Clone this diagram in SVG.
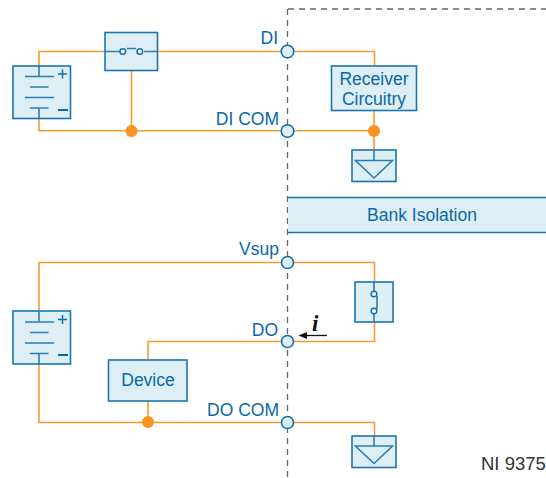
<svg xmlns="http://www.w3.org/2000/svg" width="546" height="478" viewBox="0 0 546 478">
<style>
text{font-family:"Liberation Sans",Arial,sans-serif;font-size:17.500px;fill:#0a68a8}
.m{text-anchor:middle}.e{text-anchor:end}
.w{fill:none;stroke:#f79a2e;stroke-width:1.600}
.b{fill:#ddeef5;stroke:#1a76b0;stroke-width:1.600}
.l{fill:none;stroke:#2a7db5;stroke-width:1.600}
.c{fill:#ddeef5;stroke:#0f70b0;stroke-width:1.600}
.o{fill:#fff;stroke:#0f70b0;stroke-width:1.500}
.d{fill:#f8931f}
</style>
<path id="boundary" d="M288 9H546M287.500 9V478" fill="none" stroke="#666" stroke-width="1.300" stroke-dasharray="6 5"/>
<g id="connectors">
<path class="w" d="M39 66V51.500H105M158 51.500H374.500V66"/>
<path class="w" d="M131.500 70V131"/>
<path class="w" d="M39 119V130.800H374V150"/>
<path class="w" d="M374 111V131"/>
<path class="w" d="M39 310V262.500H374.500V282"/>
<path class="w" d="M374.500 322V341.500H148V360"/>
<path class="w" d="M39 364V422.500H374.500V436"/>
<path class="w" d="M148 401V422"/>
</g>
<g id="battery-top">
<rect class="b" x="13" y="66" width="57.500" height="52.500"/>
<path class="l" d="M39 66V76M25 76.500H54M30 87H48.500M25 97.500H54M30 108H48.500M39 108V118.500"/>
<path d="M58 74H67M62.500 69.500V78.500" stroke="#0f70b0" stroke-width="1.500"/>
<path d="M58 110H68" stroke="#0a68a8" stroke-width="2"/>
</g>
<g id="switch-top">
<rect class="b" x="105" y="32.500" width="52.500" height="38"/>
<path class="l" d="M105 51.500H120M127 48.500H136M144 51.500H157.500"/>
<circle class="o" cx="122.800" cy="51.500" r="2.800"/><circle class="o" cx="139.800" cy="51.500" r="2.800"/>
</g>
<g id="receiver">
<rect class="b" x="331.500" y="66" width="85" height="44.500"/>
<text class="m" x="374" y="84.500">Receiver</text>
<text class="m" x="374" y="104.500">Circuitry</text>
</g>
<g id="ground-top">
<rect class="b" x="352" y="150" width="44" height="31.500"/>
<path class="l" d="M374 150V160M355.500 160.500H392.500L374 178Z"/>
</g>
<g id="bank-isolation">
<path d="M288 197.500H546V232.500H288Z" fill="#ddeef5"/>
<path d="M288 197.500H546M288 232.500H546" fill="none" stroke="#1a76b0" stroke-width="1.300"/>
<text class="m" x="422" y="221">Bank Isolation</text>
</g>
<g id="battery-bottom">
<rect class="b" x="13" y="311" width="57.500" height="53"/>
<path class="l" d="M39 311V321.500M25 322H54M30 332.500H48.500M25 343H54M30 353.500H48.500M39 353.500V364"/>
<path d="M58 319.500H67M62.500 315V324" stroke="#0f70b0" stroke-width="1.500"/>
<path d="M58 355H68" stroke="#0a68a8" stroke-width="2"/>
</g>
<g id="device">
<rect class="b" x="108.500" y="360" width="78.500" height="41"/>
<text class="m" x="148" y="386">Device</text>
</g>
<g id="switch-bottom">
<rect class="b" x="355" y="282" width="38" height="40"/>
<path class="l" d="M374 282V291M377 296V309M374 314V322"/>
<circle class="o" cx="374" cy="294" r="2.800"/><circle class="o" cx="374" cy="311" r="2.800"/>
</g>
<g id="ground-bottom">
<rect class="b" x="352" y="436" width="44" height="31.500"/>
<path class="l" d="M374 436V445.500M355.500 446H392.500L374 463.500Z"/>
</g>
<g id="term-di"><circle class="c" cx="287.500" cy="51.500" r="6.300"/><text class="e" x="278" y="44">DI</text></g>
<g id="term-di-com"><circle class="c" cx="287.500" cy="131" r="6.300"/><text class="e" x="279" y="124.500">DI COM</text></g>
<g id="term-vsup"><circle class="c" cx="287.500" cy="262.500" r="6"/><text class="e" x="279" y="255">Vsup</text></g>
<g id="term-do"><circle class="c" cx="287.500" cy="341.500" r="6"/><text class="e" x="278" y="336">DO</text></g>
<g id="term-do-com"><circle class="c" cx="287.500" cy="422.500" r="6"/><text class="e" x="279" y="416">DO COM</text></g>
<g id="junctions">
<circle class="d" cx="131.500" cy="131" r="6"/>
<circle class="d" cx="374" cy="131" r="6"/>
<circle class="d" cx="148" cy="422" r="6"/>
</g>
<g id="current">
<path d="M306 335.500H327" stroke="#111" stroke-width="1.300"/>
<path d="M298.500 335.500L307 332V339Z" fill="#111"/>
<text x="312" y="331" style="font-family:'Liberation Serif',serif;font-size:23px;font-weight:bold;font-style:italic;fill:#111">i</text>
</g>
<text id="model" x="481" y="470" style="fill:#333;font-size:18.500px">NI 9375</text>
</svg>
